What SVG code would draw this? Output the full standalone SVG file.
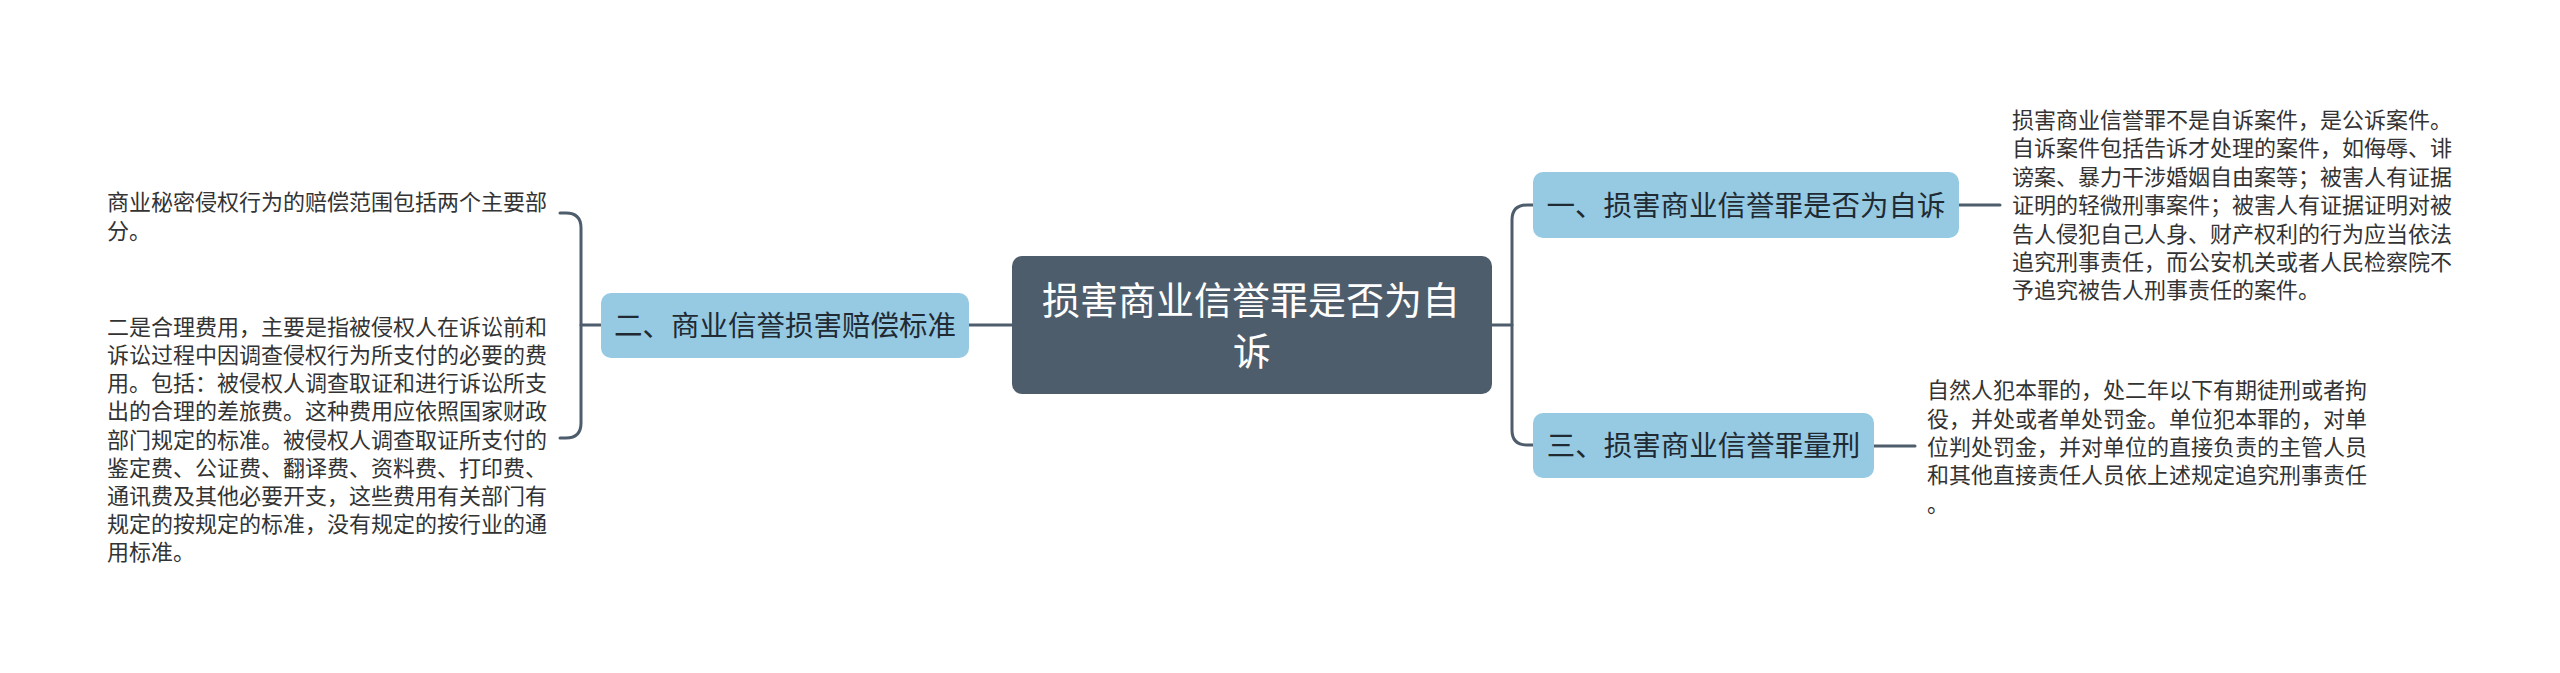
<svg xmlns="http://www.w3.org/2000/svg" width="2560" height="673" viewBox="0 0 2560 673">
<style>
.bg{fill:#ffffff}
.conn{fill:none;stroke:#4e5d6c;stroke-width:3;stroke-linecap:round;stroke-linejoin:round}
.main{fill:#4e5d6c}
.sub{fill:#96cae3}
.t{font-family:"Noto Sans CJK SC","Noto Sans",sans-serif}
.mt{font-size:38px;fill:#ffffff;text-anchor:middle}
.st{font-size:28.5px;fill:#1f2a33;text-anchor:middle}
.lt{font-size:22px;fill:#333333}
</style>
<rect class="bg" x="0" y="0" width="2560" height="673"/>
<g id="connectors">
<path class="conn" d="M1492,325 H1512"/>
<path class="conn" d="M1533,205 H1527 Q1512,205 1512,220 V430 Q1512,445 1527,445 H1533"/>
<path class="conn" d="M1959,205 H2000"/>
<path class="conn" d="M1874,446 H1915"/>
<path class="conn" d="M1012,325 H969"/>
<path class="conn" d="M601,325 H581"/>
<path class="conn" d="M560,213 H566 Q581,213 581,228 V423 Q581,438 566,438 H560"/>
</g>
<g id="root">
<rect class="main" x="1012" y="256" width="480" height="138" rx="10"/>
<text class="t mt" x="1251" y="313.5">损害商业信誉罪是否为自</text>
<text class="t mt" x="1252" y="365">诉</text>
</g>
<g id="node-1">
<rect class="sub" x="1533" y="172" width="426" height="66" rx="10"/>
<text class="t st" x="1746" y="216">一、损害商业信誉罪是否为自诉</text>
</g>
<g id="node-1-text">
<text class="t lt" x="2012" y="128">损害商业信誉罪不是自诉案件，是公诉案件。</text>
<text class="t lt" x="2012" y="156.4">自诉案件包括告诉才处理的案件，如侮辱、诽</text>
<text class="t lt" x="2012" y="184.8">谤案、暴力干涉婚姻自由案等；被害人有证据</text>
<text class="t lt" x="2012" y="213.2">证明的轻微刑事案件；被害人有证据证明对被</text>
<text class="t lt" x="2012" y="241.6">告人侵犯自己人身、财产权利的行为应当依法</text>
<text class="t lt" x="2012" y="270">追究刑事责任，而公安机关或者人民检察院不</text>
<text class="t lt" x="2012" y="298.4">予追究被告人刑事责任的案件。</text>
</g>
<g id="node-3">
<rect class="sub" x="1533" y="413" width="341" height="65" rx="10"/>
<text class="t st" x="1703.5" y="456.3">三、损害商业信誉罪量刑</text>
</g>
<g id="node-3-text">
<text class="t lt" x="1927" y="398.4">自然人犯本罪的，处二年以下有期徒刑或者拘</text>
<text class="t lt" x="1927" y="426.7">役，并处或者单处罚金。单位犯本罪的，对单</text>
<text class="t lt" x="1927" y="455">位判处罚金，并对单位的直接负责的主管人员</text>
<text class="t lt" x="1927" y="483.3">和其他直接责任人员依上述规定追究刑事责任</text>
<text class="t lt" x="1927" y="511.6">。</text>
</g>
<g id="node-2">
<rect class="sub" x="601" y="293" width="368" height="65" rx="10"/>
<text class="t st" x="785" y="336.3">二、商业信誉损害赔偿标准</text>
</g>
<g id="node-2-text-a">
<text class="t lt" x="107" y="210.4">商业秘密侵权行为的赔偿范围包括两个主要部</text>
<text class="t lt" x="107" y="238.5">分。</text>
</g>
<g id="node-2-text-b">
<text class="t lt" x="107" y="335.1">二是合理费用，主要是指被侵权人在诉讼前和</text>
<text class="t lt" x="107" y="363.2">诉讼过程中因调查侵权行为所支付的必要的费</text>
<text class="t lt" x="107" y="391.3">用。包括：被侵权人调查取证和进行诉讼所支</text>
<text class="t lt" x="107" y="419.4">出的合理的差旅费。这种费用应依照国家财政</text>
<text class="t lt" x="107" y="447.5">部门规定的标准。被侵权人调查取证所支付的</text>
<text class="t lt" x="107" y="475.6">鉴定费、公证费、翻译费、资料费、打印费、</text>
<text class="t lt" x="107" y="503.7">通讯费及其他必要开支，这些费用有关部门有</text>
<text class="t lt" x="107" y="531.8">规定的按规定的标准，没有规定的按行业的通</text>
<text class="t lt" x="107" y="559.9">用标准。</text>
</g>
</svg>
